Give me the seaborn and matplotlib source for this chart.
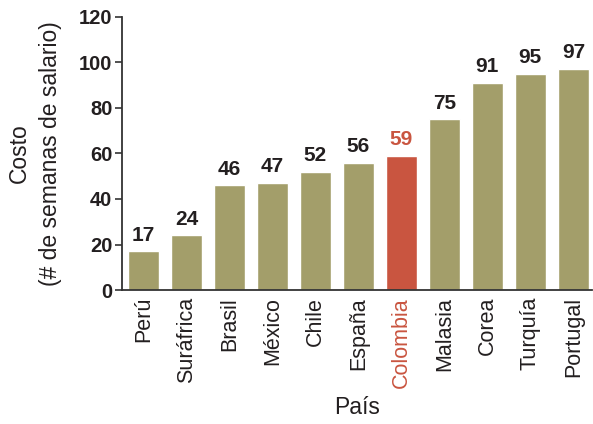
import matplotlib
matplotlib.use("Agg")
import matplotlib.pyplot as plt
import seaborn as sns
import pandas as pd

paises = ["Perú", "Suráfrica", "Brasil", "México", "Chile", "España",
          "Colombia", "Malasia", "Corea", "Turquía", "Portugal"]
costo = [17, 24, 46, 47, 52, 56, 59, 75, 91, 95, 97]
destacado = "Colombia"

OLIVA = "#A39E6A"
ROJO = "#C95540"
TEXTO = "#231F20"

sns.set_theme(style="white")
plt.rcParams["font.family"] = ["Liberation Sans", "DejaVu Sans"]

df = pd.DataFrame({"País": paises, "Costo": costo})
colores = {p: (ROJO if p == destacado else OLIVA) for p in paises}

fig = plt.figure(figsize=(5.93, 4.24), dpi=100)
ax = fig.add_axes([0.206, 0.316, 0.792, 0.644])

sns.barplot(data=df, x="País", y="Costo", hue="País", palette=colores,
            width=0.72, legend=False, ax=ax, saturation=1)

for i, (p, v) in enumerate(zip(paises, costo)):
    ax.text(i, v + 3, str(v), ha="center", va="bottom", fontsize=15,
            fontweight="bold", color=ROJO if p == destacado else TEXTO)

ax.set_ylim(0, 120)
ax.set_yticks(range(0, 121, 20))
ax.set_xlim(-0.5, len(paises) - 0.57)
ax.tick_params(axis="y", labelsize=14.5, length=5, width=1.2, color="#333333",
               labelcolor=TEXTO, pad=2, direction="out", left=True)
for lab in ax.get_yticklabels():
    lab.set_fontweight("bold")
ax.tick_params(axis="x", length=0, labelsize=15.5, pad=5, labelcolor=TEXTO)
ax.set_xticks(range(len(paises)))
ax.set_xticklabels(paises, rotation=90)
for lab in ax.get_xticklabels():
    if lab.get_text() == destacado:
        lab.set_color(ROJO)

ax.set_xlabel("País", fontsize=16.5, color=TEXTO, labelpad=6)
ax.set_ylabel("Costo\n(# de semanas de salario)", fontsize=16.5, color=TEXTO,
              labelpad=12, linespacing=1.45)

sns.despine(ax=ax)
for s in ("left", "bottom"):
    ax.spines[s].set_color("#333333")
    ax.spines[s].set_linewidth(1.3)

fig.savefig("out.png", dpi=100)
